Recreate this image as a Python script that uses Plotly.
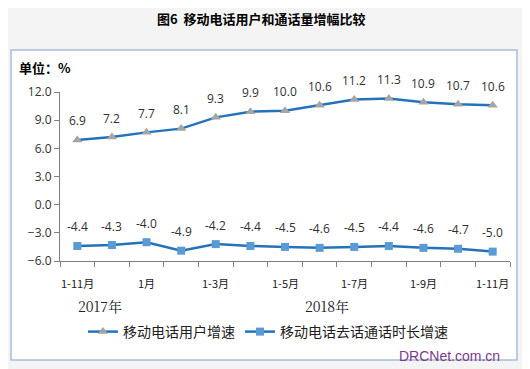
import plotly.graph_objects as go

categories = ["2017年1-11月", "2017年1-12月", "2018年1月", "2018年1-2月", "2018年1-3月",
              "2018年1-4月", "2018年1-5月", "2018年1-6月", "2018年1-7月", "2018年1-8月",
              "2018年1-9月", "2018年1-10月", "2018年1-11月"]
users_growth = [6.9, 7.2, 7.7, 8.1, 9.3, 9.9, 10.0, 10.6, 11.2, 11.3, 10.9, 10.7, 10.6]
call_growth = [-4.4, -4.3, -4.0, -4.9, -4.2, -4.4, -4.5, -4.6, -4.5, -4.4, -4.6, -4.7, -5.0]
tick_labels = ["1-11月", "", "1月", "", "1-3月", "", "1-5月", "", "1-7月", "", "1-9月", "", "1-11月"]
year_labels = [("2017年", 0.65), ("2018年", 7.2)]
series_names = ["移动电话用户增速", "移动电话去话通话时长增速"]

x = list(range(len(categories)))
LINE = "#2473BA"
CJK = "Noto Sans CJK SC"

W, H = 530, 369
OFF = 8  # page body margin offset
# plot area in screen pixels (reference), converted to figure pixels
L, R, T, B = 60 - OFF, 510 - OFF, 92 - OFF, 261 - OFF


def px_x(p):
    return (p - OFF - L) / (R - L)


def px_y(p):
    return (B - (p - OFF)) / (B - T)


fig = go.Figure()
fig.add_trace(go.Scatter(
    x=x, y=users_growth, mode="lines+markers", name=series_names[0],
    line=dict(color=LINE, width=2.5),
    marker=dict(symbol="triangle-up", size=9, color="#A5A5A5"),
    customdata=categories,
))
fig.add_trace(go.Scatter(
    x=x, y=call_growth, mode="lines+markers", name=series_names[1],
    line=dict(color=LINE, width=2.5),
    marker=dict(symbol="square", size=8, color="#5B9BD5"),
    customdata=categories,
))

lab_font = dict(family="Open Sans, sans-serif", size=12, color="#303030")
annotations = []
for xi, v in zip(x, users_growth):
    annotations.append(dict(x=xi, y=v, xref="x", yref="y", text=f"{v:.1f}", showarrow=False,
                            yshift=19, font=lab_font))
for xi, v in zip(x, call_growth):
    annotations.append(dict(x=xi, y=v, xref="x", yref="y", text=f"{v:.1f}", showarrow=False,
                            yshift=19, font=lab_font))
for xi, t in zip(x, tick_labels):
    if t:
        annotations.append(dict(x=xi, y=0, xref="x", yref="paper", text=t, showarrow=False,
                                yanchor="top", yshift=-12,
                                font=dict(family=CJK, size=11, color="#202020")))
for t, xp in year_labels:
    annotations.append(dict(x=xp, y=0, xref="x", yref="paper", text=t, showarrow=False,
                            yanchor="top", yshift=-33,
                            font=dict(family="Noto Serif CJK SC, Liberation Serif, serif", size=14,
                                      color="#202020")))
annotations.append(dict(x=px_x(261), y=px_y(18), xref="paper", yref="paper",
                        text="<b>图6  移动电话用户和通话量增幅比较</b>", xanchor="center", yanchor="middle",
                        showarrow=False, font=dict(family=CJK, size=13, color="#000000")))
annotations.append(dict(x=px_x(17), y=px_y(68), xref="paper", yref="paper", text="<b>单位：%</b>",
                        xanchor="left", yanchor="middle", showarrow=False,
                        font=dict(family=CJK, size=13, color="#000000")))
annotations.append(dict(x=px_x(502), y=px_y(356), xref="paper", yref="paper", text="DRCNet.com.cn",
                        xanchor="right", yanchor="middle", showarrow=False,
                        font=dict(family="Liberation Sans, sans-serif", size=14, color="#7B3A8C")))

fig.update_layout(
    width=W, height=H,
    margin=dict(l=L, r=W - R, t=T, b=H - B, autoexpand=False),
    paper_bgcolor="#F4F4F4", plot_bgcolor="#FFFFFF",
    showlegend=True,
    legend=dict(orientation="h", x=(268 - OFF) / W, xanchor="center", xref="container",
                y=1 - (332 - OFF) / H, yanchor="middle", yref="container",
                font=dict(family=CJK, size=14, color="#202020"),
                bgcolor="rgba(0,0,0,0)"),
    xaxis=dict(range=[-0.5, len(x) - 0.5], showgrid=False, zeroline=False, showline=True,
               linecolor="#808080", linewidth=1, automargin=False,
               tickmode="array", tickvals=[i - 0.5 for i in range(len(x) + 1)],
               ticktext=[""] * (len(x) + 1), ticks="outside", ticklen=5, tickcolor="#808080"),
    yaxis=dict(range=[-6, 12], dtick=3, tickformat=".1f", showgrid=False, zeroline=False,
               showline=True, linecolor="#808080", linewidth=1, ticks="outside", ticklen=5,
               tickcolor="#808080", automargin=False,
               tickfont=dict(family="Open Sans, sans-serif", size=12, color="#303030")),
    annotations=annotations,
    shapes=[dict(type="rect", xref="paper", yref="paper", layer="below",
                 x0=px_x(11), x1=px_x(517), y0=px_y(360), y1=px_y(50),
                 line=dict(color="#A9BCD6", width=1.5), fillcolor="#FFFFFF")],
)

fig.write_html("out.html")
